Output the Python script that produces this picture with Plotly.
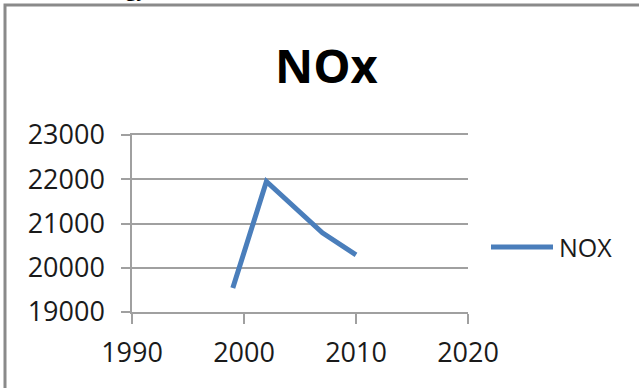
import plotly.graph_objects as go

years = [1999, 2002, 2007, 2010]
nox = [19540, 21950, 20790, 20290]
series_name = "NOX"
title_text = "NOx"
x_ticks = [1990, 2000, 2010, 2020]
y_ticks = [19000, 20000, 21000, 22000, 23000]
y_tick_text = [str(v) for v in y_ticks]

W, H = 639, 388
px_l, px_r, px_t, px_b = 132, 468, 135, 312
LINE_COLOR = "#4A7EBB"
AXIS_GRAY = "#a0a0a0"
FONT = "Open Sans"

fig = go.Figure()
fig.add_trace(go.Scatter(
    x=years, y=nox, mode="lines", name=series_name,
    line=dict(color=LINE_COLOR, width=5), showlegend=False,
))

fig.update_layout(
    width=W, height=H,
    margin=dict(l=0, r=0, t=0, b=0),
    paper_bgcolor="white", plot_bgcolor="white",
    font=dict(family=FONT, color="#1a1a1a"),
    showlegend=False,
    annotations=[
        dict(text="<b>" + title_text + "</b>", x=326 / W, y=1 - 65 / H,
             xref="paper", yref="paper", showarrow=False,
             xanchor="center", yanchor="middle",
             font=dict(size=47, family=FONT, color="black")),
        dict(text=series_name, x=557 / W, y=1 - 247 / H,
             xref="paper", yref="paper", showarrow=False,
             xanchor="left", yanchor="middle",
             font=dict(size=25, family=FONT, color="#1a1a1a")),
        dict(text="<b>Energy</b>", x=149 / W, y=1 + 12 / H,
             xref="paper", yref="paper", showarrow=False,
             xanchor="right", yanchor="middle",
             font=dict(size=22, family="Liberation Serif", color="black")),
    ],
    shapes=[
        dict(type="rect", xref="paper", yref="paper",
             x0=5 / W, x1=1.2, y0=-0.2, y1=1 - 5 / H,
             line=dict(color="#8a8a8a", width=3), layer="below"),
        dict(type="line", xref="paper", yref="paper",
             x0=491 / W, x1=553 / W, y0=1 - 247 / H, y1=1 - 247 / H,
             line=dict(color=LINE_COLOR, width=5)),
    ],
)
fig.update_xaxes(
    domain=[px_l / W, px_r / W], range=[1990, 2020],
    tickvals=x_ticks, ticks="outside", ticklen=10, tickcolor=AXIS_GRAY, tickwidth=1.5,
    showline=True, mirror=True, linecolor=AXIS_GRAY, linewidth=1.5, showgrid=False, zeroline=False,
    tickfont=dict(size=27, family=FONT, color="#1a1a1a"), ticklabelstandoff=6,
    automargin=False, fixedrange=True,
)
fig.update_yaxes(
    domain=[1 - px_b / H, 1 - px_t / H], range=[19000, 23000],
    tickvals=y_ticks, ticktext=y_tick_text, ticks="outside", ticklen=9,
    tickcolor=AXIS_GRAY, tickwidth=1.5,
    showline=True, linecolor=AXIS_GRAY, linewidth=1.5,
    showgrid=True, gridcolor=AXIS_GRAY, gridwidth=1.5, zeroline=False,
    tickfont=dict(size=27, family=FONT, color="#1a1a1a"), ticklabelstandoff=11,
    automargin=False, fixedrange=True,
)

fig.write_html("out.html", config={"displayModeBar": False},
               post_script="document.body.style.margin='0';")
